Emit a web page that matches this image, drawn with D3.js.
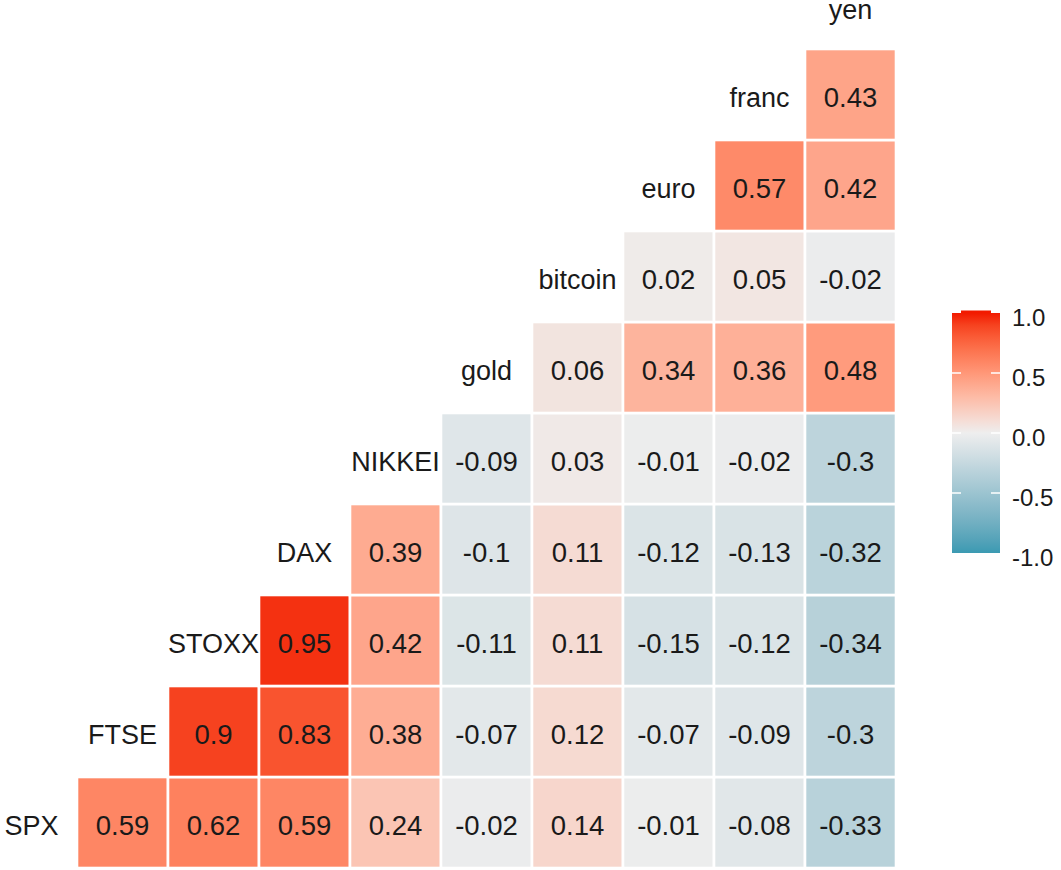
<!DOCTYPE html>
<html>
<head>
<meta charset="utf-8">
<script src="https://cdn.jsdelivr.net/npm/d3@7"></script>
<style>
  html, body { margin: 0; padding: 0; background: #fff; }
  svg { display: block; font-family: "Liberation Sans", Arial, sans-serif; }
</style>
</head>
<body>
<svg id="chart" width="1061" height="870"></svg>
<script>
// Variables, bottom row first
const variables = ["SPX", "FTSE", "STOXX", "DAX", "NIKKEI", "gold", "bitcoin", "euro", "franc", "yen"];

// Lower-triangle correlations: each row lists the values against the variables after it
const rowSPX     = [0.59, 0.62, 0.59, 0.24, -0.02, 0.14, -0.01, -0.08, -0.33];
const rowFTSE    = [0.9, 0.83, 0.38, -0.07, 0.12, -0.07, -0.09, -0.3];
const rowSTOXX   = [0.95, 0.42, -0.11, 0.11, -0.15, -0.12, -0.34];
const rowDAX     = [0.39, -0.1, 0.11, -0.12, -0.13, -0.32];
const rowNIKKEI  = [-0.09, 0.03, -0.01, -0.02, -0.3];
const rowGold    = [0.06, 0.34, 0.36, 0.48];
const rowBitcoin = [0.02, 0.05, -0.02];
const rowEuro    = [0.57, 0.42];
const rowFranc   = [0.43];

const legendTicks = [1.0, 0.5, 0.0, -0.5, -1.0];

const rows = [rowSPX, rowFTSE, rowSTOXX, rowDAX, rowNIKKEI, rowGold, rowBitcoin, rowEuro, rowFranc];

const cells = [];
rows.forEach((vals, r) => {
  vals.forEach((v, k) => {
    cells.push({ row: variables[r], col: variables[r + 1 + k], value: v });
  });
});

const svg = d3.select("#chart");

const x = d3.scaleBand().domain(variables).range([-14, 896]).padding(0);
const y = d3.scaleBand().domain(variables.slice().reverse()).range([-42, 868]).padding(0);

const color = d3.scaleLinear()
  .domain([-1, 0, 1])
  .range(["#3B9AB2", "#EEEEEE", "#F21A00"])
  .interpolate(d3.interpolateLab);

const fmt = v => String(+v.toFixed(2));

// Tiles
svg.append("g").selectAll("rect")
  .data(cells)
  .join("rect")
  .attr("x", d => x(d.col))
  .attr("y", d => y(d.row))
  .attr("width", x.bandwidth())
  .attr("height", y.bandwidth())
  .attr("fill", d => color(d.value))
  .attr("stroke", "#ffffff")
  .attr("stroke-width", 2.6);

// Cell values
svg.append("g").selectAll("text")
  .data(cells)
  .join("text")
  .attr("x", d => x(d.col) + x.bandwidth() / 2)
  .attr("y", d => y(d.row) + y.bandwidth() / 2 + 12)
  .attr("text-anchor", "middle")
  .attr("font-size", 27.5)
  .attr("fill", "#1a1a1a")
  .text(d => fmt(d.value));

// Diagonal labels
svg.append("g").selectAll("text")
  .data(variables)
  .join("text")
  .attr("x", d => x(d) + x.bandwidth() / 2)
  .attr("y", d => Math.max(y(d) + y.bandwidth() / 2 + 12, 19))
  .attr("text-anchor", "middle")
  .attr("font-size", 27)
  .attr("fill", "#1a1a1a")
  .text(d => d);

// Legend
const ly = d3.scaleLinear().domain([-1, 1]).range([553, 313]);
const lx0 = 952, lx1 = 1000;
const defs = svg.append("defs");
const grad = defs.append("linearGradient")
  .attr("id", "lg").attr("x1", 0).attr("x2", 0).attr("y1", 1).attr("y2", 0);
d3.range(0, 21).forEach(i => {
  const v = -1 + i / 10;
  grad.append("stop").attr("offset", (i / 20)).attr("stop-color", color(v));
});
const lg = svg.append("g");
lg.append("rect")
  .attr("x", lx0 + 9).attr("y", ly(1) - 2.5)
  .attr("width", lx1 - lx0 - 18).attr("height", 4)
  .attr("fill", color(1));
lg.append("rect")
  .attr("x", lx0).attr("y", ly(1))
  .attr("width", lx1 - lx0).attr("height", ly(-1) - ly(1))
  .attr("fill", "url(#lg)");
lg.selectAll("line.tl")
  .data(legendTicks.filter(t => Math.abs(t) < 1))
  .join("line")
  .attr("class", "tl")
  .attr("x1", lx0).attr("x2", lx0 + 9)
  .attr("y1", d => ly(d)).attr("y2", d => ly(d))
  .attr("stroke", "#fff").attr("stroke-width", 1.5);
lg.selectAll("line.tr")
  .data(legendTicks.filter(t => Math.abs(t) < 1))
  .join("line")
  .attr("class", "tr")
  .attr("x1", lx1 - 9).attr("x2", lx1)
  .attr("y1", d => ly(d)).attr("y2", d => ly(d))
  .attr("stroke", "#fff").attr("stroke-width", 1.5);
lg.selectAll("text")
  .data(legendTicks)
  .join("text")
  .attr("x", 1012)
  .attr("y", d => ly(d) + 4 + 8.5)
  .attr("font-size", 24)
  .attr("fill", "#1a1a1a")
  .text(d => d.toFixed(1));
</script>
</body>
</html>
